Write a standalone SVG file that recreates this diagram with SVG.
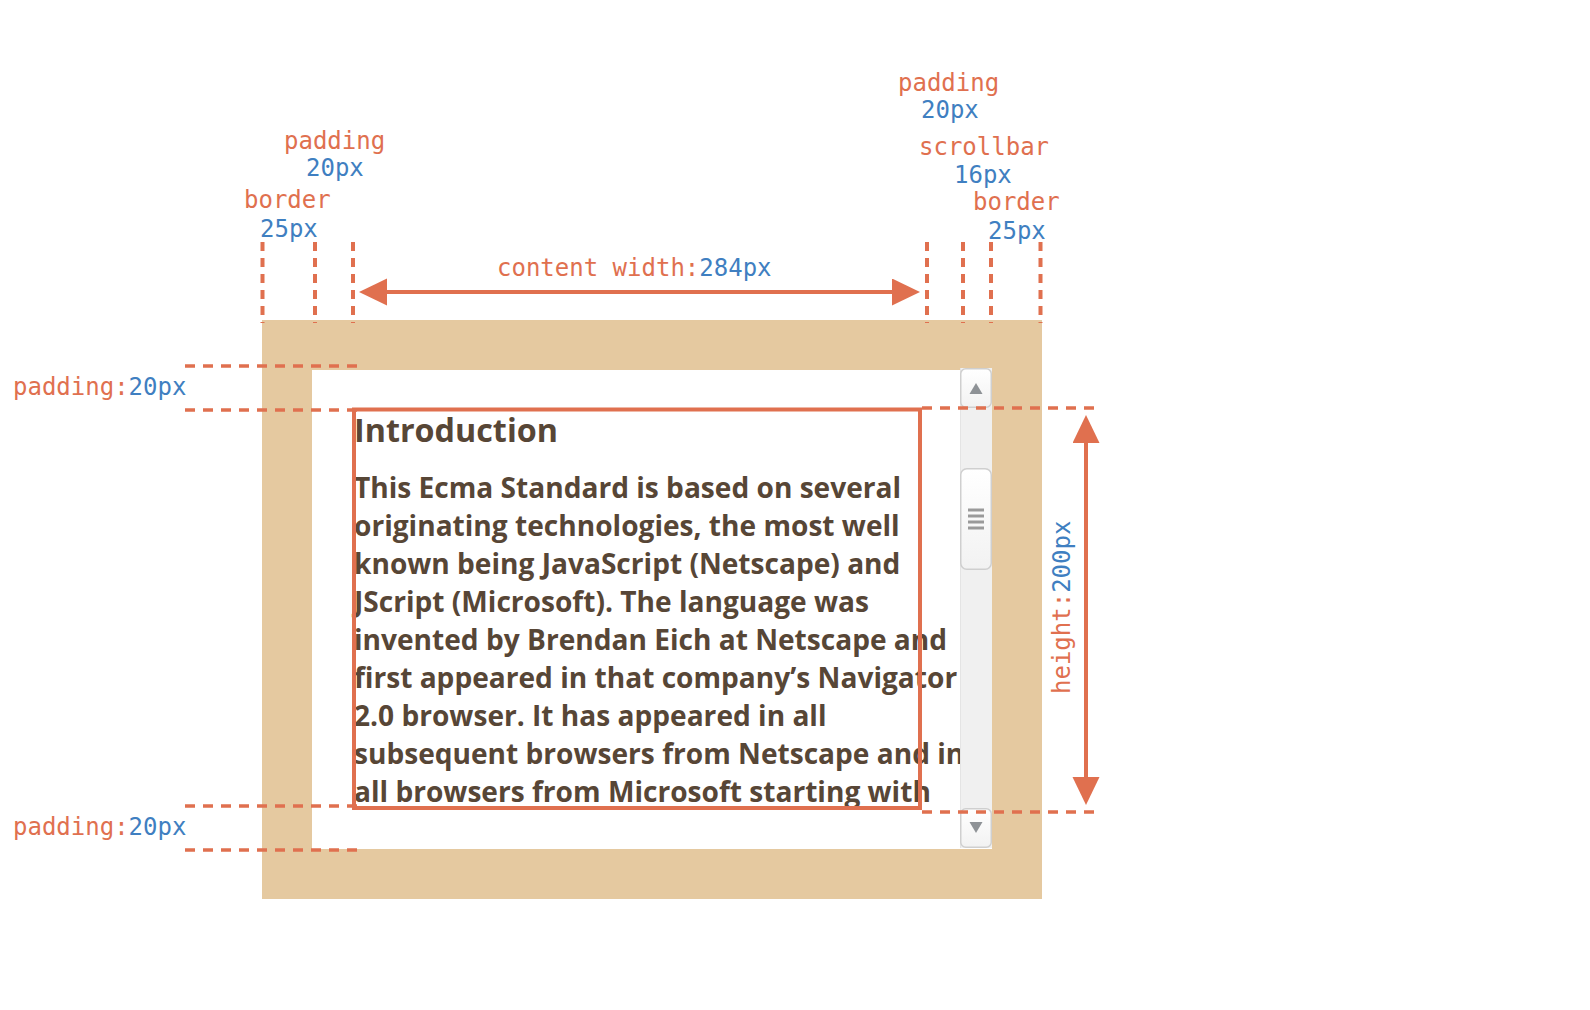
<svg xmlns="http://www.w3.org/2000/svg" width="1590" height="1010" viewBox="0 0 1590 1010">
<style>
.lbl{font-family:"DejaVu Sans Mono","Liberation Mono",monospace;font-size:24px;fill:#E0704F}
.val{fill:#3F7FC1}
.body{font-family:"Open Sans","Noto Sans",sans-serif;font-weight:700;font-size:28.1px;fill:#574636}
.h{font-size:32.3px}
.dv{stroke:#E0704F;stroke-width:4;stroke-dasharray:9 7;fill:none}
.dh{stroke:#E0704F;stroke-width:3.5;stroke-dasharray:10 8;fill:none}
.arr{stroke:#E0704F;stroke-width:4;fill:none}
.btn{fill:url(#bg);stroke:#cfcfcf;stroke-width:1.5}
.tri{fill:#8e9296}
.grip{stroke:#9a9a9a;stroke-width:3}
</style>
<defs>
<linearGradient id="bg" x1="0" y1="0" x2="0" y2="1">
<stop offset="0" stop-color="#ffffff"/>
<stop offset="1" stop-color="#f2f2f2"/>
</linearGradient>
<marker id="ah" markerUnits="userSpaceOnUse" markerWidth="30" markerHeight="28" refX="1" refY="13.5" orient="auto-start-reverse" viewBox="0 0 30 28">
<path d="M0,0 L28,13.5 L0,27 Z" fill="#E0704F"/>
</marker>
</defs>
<rect width="1590" height="1010" fill="#ffffff"/>

<g id="box">
<rect x="262" y="320" width="780" height="579" fill="#E5C9A0"/>
<rect x="312" y="370" width="680" height="479" fill="#ffffff"/>
</g>

<g id="content-text">
<text class="body h" x="354" y="442">Introduction</text>
<text class="body" x="354" y="497.5">This Ecma Standard is based on several</text>
<text class="body" x="354" y="535.5">originating technologies, the most well</text>
<text class="body" x="354" y="573.5">known being JavaScript (Netscape) and</text>
<text class="body" x="354" y="611.5">JScript (Microsoft). The language was</text>
<text class="body" x="354" y="649.5">invented by Brendan Eich at Netscape and</text>
<text class="body" x="354" y="687.5">first appeared in that company’s Navigator</text>
<text class="body" x="354" y="725.5">2.0 browser. It has appeared in all</text>
<text class="body" x="354" y="763.5">subsequent browsers from Netscape and in</text>
<text class="body" x="354" y="801.5">all browsers from Microsoft starting with</text>
</g>

<g id="scrollbar">
<rect x="960" y="368" width="32" height="480" fill="#f0f0f0"/>
<line x1="960.5" y1="368" x2="960.5" y2="848" stroke="#e4e4e4" stroke-width="1"/>
<rect class="btn" x="960.75" y="368.75" width="30.5" height="38.5" rx="5"/>
<polygon class="tri" points="976,383 969.5,394 982.5,394"/>
<rect class="btn" x="960.75" y="468.75" width="30.5" height="100.5" rx="6"/>
<line class="grip" x1="968" y1="510" x2="984" y2="510"/>
<line class="grip" x1="968" y1="516" x2="984" y2="516"/>
<line class="grip" x1="968" y1="522" x2="984" y2="522"/>
<line class="grip" x1="968" y1="528" x2="984" y2="528"/>
<rect class="btn" x="960.75" y="808.75" width="30.5" height="38.5" rx="5"/>
<polygon class="tri" points="969.5,822 982.5,822 976,833"/>
</g>

<g id="content-box">
<rect x="354" y="409.5" width="566" height="398.5" fill="none" stroke="#E0704F" stroke-width="4"/>
</g>

<g id="connectors">
<line class="dv" x1="262.5" y1="242" x2="262.5" y2="323"/>
<line class="dv" x1="315" y1="242" x2="315" y2="323"/>
<line class="dv" x1="353" y1="242" x2="353" y2="323"/>
<line class="dv" x1="927" y1="242" x2="927" y2="323"/>
<line class="dv" x1="963" y1="242" x2="963" y2="323"/>
<line class="dv" x1="991" y1="242" x2="991" y2="323"/>
<line class="dv" x1="1040.5" y1="242" x2="1040.5" y2="323"/>
<line class="dh" x1="185" y1="366" x2="358" y2="366"/>
<line class="dh" x1="185" y1="410" x2="358" y2="410"/>
<line class="dh" x1="185" y1="806" x2="358" y2="806"/>
<line class="dh" x1="185" y1="850" x2="358" y2="850"/>
<line class="dh" x1="922" y1="408" x2="1094" y2="408"/>
<line class="dh" x1="922" y1="812" x2="1094" y2="812"/>
<line class="arr" x1="386" y1="292" x2="893" y2="292" marker-start="url(#ah)" marker-end="url(#ah)"/>
<line class="arr" x1="1086" y1="442" x2="1086" y2="778" marker-start="url(#ah)" marker-end="url(#ah)"/>
</g>

<g id="labels">
<text class="lbl" x="284" y="149">padding</text>
<text class="lbl val" x="306" y="176">20px</text>
<text class="lbl" x="244" y="208">border</text>
<text class="lbl val" x="260" y="237">25px</text>
<text class="lbl" x="898" y="91">padding</text>
<text class="lbl val" x="921" y="118">20px</text>
<text class="lbl" x="919" y="155">scrollbar</text>
<text class="lbl val" x="954" y="183">16px</text>
<text class="lbl" x="973" y="210">border</text>
<text class="lbl val" x="988" y="239">25px</text>
<text class="lbl" x="497" y="276">content width:<tspan class="val">284px</tspan></text>
<text class="lbl" x="13" y="395">padding:<tspan class="val">20px</tspan></text>
<text class="lbl" x="13" y="835">padding:<tspan class="val">20px</tspan></text>
<text class="lbl" transform="translate(1070,694) rotate(-90)">height:<tspan class="val">200px</tspan></text>
</g>
</svg>
